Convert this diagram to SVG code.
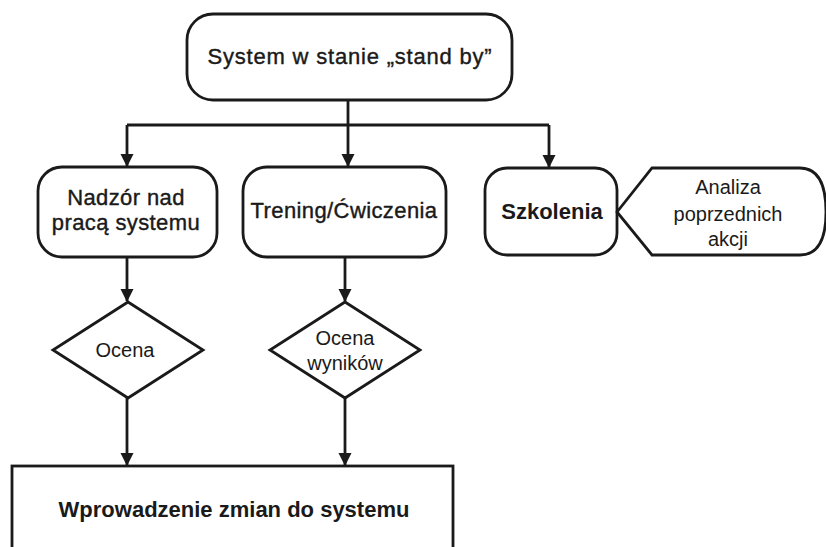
<svg xmlns="http://www.w3.org/2000/svg" width="826" height="547" viewBox="0 0 826 547">
  <style>
    .shape { fill: #ffffff; stroke: #1a1a1a; stroke-width: 2.8; }
    .wire { fill: none; stroke: #1a1a1a; stroke-width: 2.8; }
    text { font-family: "Liberation Sans", Arial, sans-serif; fill: #1a1a1a; text-anchor: middle; }
    .med { font-size: 22px; letter-spacing: 0.4px; stroke: #1a1a1a; stroke-width: 0.4; }
    .lbl { font-size: 20px; }
    .bold { font-size: 22px; font-weight: bold; }
  </style>
  <defs>
    <marker id="arrow" markerWidth="14" markerHeight="14" refX="12" refY="7" orient="auto" markerUnits="userSpaceOnUse">
      <path d="M0,0.5 L13,7 L0,13.5 Z" fill="#1a1a1a"/>
    </marker>
  </defs>
  <rect width="826" height="547" fill="#ffffff"/>

  <g id="connectors">
    <path class="wire" d="M348,100 V125"/>
    <path class="wire" d="M127,125 H549"/>
    <path class="wire" d="M127,125 V166" marker-end="url(#arrow)"/>
    <path class="wire" d="M348,125 V166" marker-end="url(#arrow)"/>
    <path class="wire" d="M549,125 V167" marker-end="url(#arrow)"/>
    <path class="wire" d="M127,257 V301" marker-end="url(#arrow)"/>
    <path class="wire" d="M345,257 V301" marker-end="url(#arrow)"/>
    <path class="wire" d="M127,398 V465" marker-end="url(#arrow)"/>
    <path class="wire" d="M345,398 V465" marker-end="url(#arrow)"/>
  </g>

  <g id="standby">
    <rect class="shape" x="187" y="14" width="325" height="86" rx="26"/>
    <text class="med" x="350" y="64" style="letter-spacing:0.8px">System w stanie „stand by”</text>
  </g>

  <g id="nadzor">
    <rect class="shape" x="38" y="167" width="179" height="90" rx="24"/>
    <text class="med" x="126" y="205">Nadzór nad</text>
    <text class="med" x="126" y="230">pracą systemu</text>
  </g>

  <g id="trening">
    <rect class="shape" x="243" y="167" width="203" height="90" rx="24"/>
    <text class="med" x="344" y="218">Trening/Ćwiczenia</text>
  </g>

  <g id="szkolenia">
    <rect class="shape" x="485" y="168" width="132" height="87" rx="22"/>
    <text class="bold" x="552" y="219">Szkolenia</text>
  </g>

  <g id="analiza">
    <path class="shape" d="M617,212 L652,168 H800 Q826,168 826,212 Q826,255 800,255 H652 Z"/>
    <text class="lbl" x="728" y="194">Analiza</text>
    <text class="lbl" x="728" y="221">poprzednich</text>
    <text class="lbl" x="728" y="246">akcji</text>
  </g>

  <g id="ocena">
    <path class="shape" d="M128,302 L203,350 L128,398 L53,350 Z"/>
    <text class="lbl" x="125" y="357">Ocena</text>
  </g>

  <g id="ocena-wynikow">
    <path class="shape" d="M345,302 L420,350 L345,398 L270,350 Z"/>
    <text class="lbl" x="345" y="345">Ocena</text>
    <text class="lbl" x="345" y="370">wyników</text>
  </g>

  <g id="wprowadzenie">
    <rect class="shape" x="12" y="466" width="441" height="100"/>
    <text class="bold" x="234" y="517">Wprowadzenie zmian do systemu</text>
  </g>
</svg>
